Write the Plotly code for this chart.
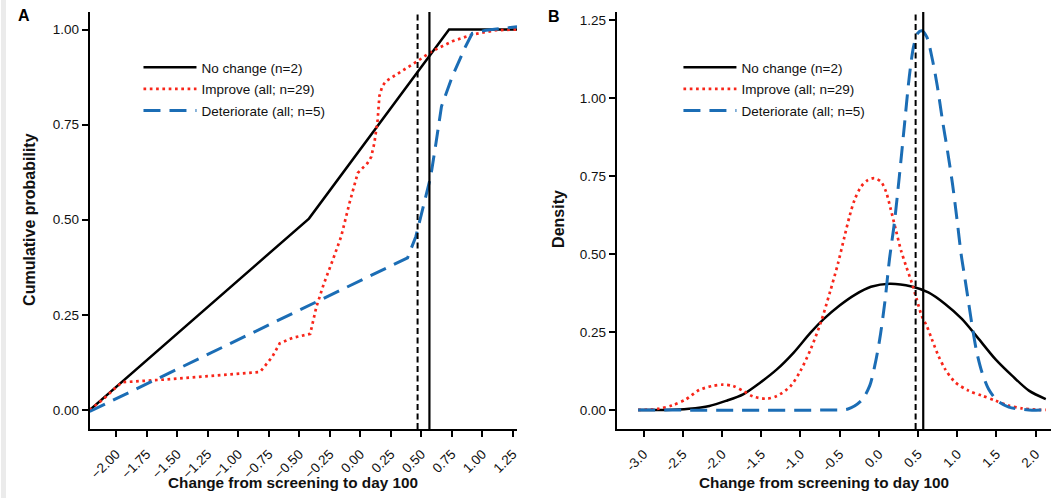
import plotly.graph_objects as go

# ---------------- Data ----------------
series_names = ["No change (n=2)", "Improve (all; n=29)", "Deteriorate (all; n=5)"]

# Panel A: cumulative probability
a_nochange_x = [-2.217, -0.42, 0.728, 1.285]
a_nochange_y = [0.0, 0.503, 1.0, 1.0]

a_improve_x = [-2.217, -2.1, -2.0, -1.95, -1.6, -1.2, -0.82, -0.72, -0.66, -0.55, -0.41,
               -0.36, -0.30, -0.224, -0.156, -0.088, -0.02, 0.06, 0.09, 0.116, 0.143,
               0.157, 0.18, 0.21, 0.32, 0.47, 0.59, 0.755, 0.92, 1.11, 1.285]
a_improve_y = [0.0, 0.03, 0.06, 0.073, 0.08, 0.09, 0.10, 0.14, 0.175, 0.19, 0.20,
               0.27, 0.33, 0.395, 0.456, 0.544, 0.623, 0.649, 0.665, 0.702, 0.763,
               0.825, 0.85, 0.864, 0.886, 0.917, 0.943, 0.969, 0.987, 0.998, 1.0]

a_deter_x = [-2.217, 0.388, 0.456, 0.524, 0.578, 0.62, 0.666, 0.755, 0.864, 0.918, 1.03, 1.285]
a_deter_y = [-0.004, 0.40, 0.456, 0.544, 0.614, 0.70, 0.798, 0.877, 0.956, 0.99, 0.998, 1.007]

# Panel B: density
b_nochange_x = [-3.07, -2.72, -2.42, -2.16, -1.95, -1.73, -1.51, -1.30, -1.085, -0.87, -0.70,
                -0.50, -0.30, -0.10, 0.14, 0.419, 0.632, 0.846, 1.06, 1.274, 1.487, 1.70,
                1.915, 2.13]
b_nochange_y = [0.0, 0.0, 0.004, 0.013, 0.029, 0.05, 0.088, 0.13, 0.184, 0.248, 0.292,
                0.335, 0.370, 0.395, 0.405, 0.396, 0.377, 0.34, 0.292, 0.228, 0.163, 0.11,
                0.062, 0.035]

b_improve_x = [-3.07, -2.81, -2.63, -2.46, -2.29, -2.12, -1.99, -1.86, -1.73, -1.60, -1.43,
               -1.30, -1.13, -1.0, -0.87, -0.74, -0.62, -0.52, -0.437, -0.374, -0.31, -0.226,
               -0.14, -0.056, 0.028, 0.092, 0.155, 0.218, 0.282, 0.35, 0.419, 0.483, 0.547,
               0.611, 0.675, 0.76, 0.846, 0.974, 1.145, 1.316, 1.487, 1.658, 1.83, 2.0, 2.13]
b_improve_y = [0.0, 0.004, 0.015, 0.034, 0.064, 0.077, 0.081, 0.077, 0.061, 0.043, 0.036,
               0.045, 0.075, 0.125, 0.194, 0.28, 0.38, 0.47, 0.556, 0.62, 0.673, 0.716,
               0.737, 0.743, 0.732, 0.70, 0.641, 0.577, 0.513, 0.46, 0.409, 0.356, 0.302,
               0.27, 0.228, 0.174, 0.131, 0.089, 0.062, 0.046, 0.030, 0.014, 0.005, 0.001, 0.0]

b_deter_x = [-3.07, -0.65, -0.393, -0.222, -0.115, -0.051, 0.013, 0.077, 0.137, 0.198, 0.262,
             0.325, 0.389, 0.443, 0.494, 0.549, 0.612, 0.685, 0.748, 0.812, 0.875, 0.939,
             1.003, 1.05, 1.10, 1.145, 1.197, 1.25, 1.316, 1.40, 1.51, 1.658, 1.915, 2.15]
b_deter_y = [0.0, 0.0, 0.003, 0.03, 0.078, 0.142, 0.228, 0.345, 0.485, 0.598, 0.748,
             0.908, 1.068, 1.164, 1.207, 1.216, 1.196, 1.122, 1.036, 0.929, 0.833, 0.727,
             0.60, 0.50, 0.42, 0.345, 0.26, 0.185, 0.121, 0.067, 0.03, 0.009, 0.0, 0.0]

# Reference vertical lines (same in both panels)
vline_dashed = 0.47
vline_solid = 0.567

# Tick values
a_xticks = [-2.0, -1.75, -1.5, -1.25, -1.0, -0.75, -0.5, -0.25, 0.0, 0.25, 0.5, 0.75, 1.0, 1.25]
a_yticks = [0.0, 0.25, 0.5, 0.75, 1.0]
b_xticks = [-3.0, -2.5, -2.0, -1.5, -1.0, -0.5, 0.0, 0.5, 1.0, 1.5, 2.0]
b_yticks = [0.0, 0.25, 0.5, 0.75, 1.0, 1.25]

x_title = "Change from screening to day 100"

# ---------------- Styles ----------------
BLACK = "#000000"
RED = "#f8261a"
BLUE = "#1b6db5"
FONT = "Liberation Sans, Arial, Helvetica, sans-serif"

styles = [
    dict(color=BLACK, width=2.5, dash="solid"),
    dict(color=RED, width=2.7, dash="2.7px,3.6px"),
    dict(color=BLUE, width=3, dash="17px,9px"),
]

fig = go.Figure()

panel_a = [(a_nochange_x, a_nochange_y), (a_improve_x, a_improve_y), (a_deter_x, a_deter_y)]
panel_b = [(b_nochange_x, b_nochange_y), (b_improve_x, b_improve_y), (b_deter_x, b_deter_y)]

for i, (xs, ys) in enumerate(panel_a):
    fig.add_trace(go.Scatter(x=xs, y=ys, mode="lines", name=series_names[i],
                             line=styles[i], xaxis="x", yaxis="y", legend="legend",
                             legendgroup="a%d" % i, hoverinfo="skip"))
for i, (xs, ys) in enumerate(panel_b):
    fig.add_trace(go.Scatter(x=xs, y=ys, mode="lines", name=series_names[i],
                             line=dict(styles[i], shape="spline", smoothing=0.8),
                             xaxis="x2", yaxis="y2", legend="legend2",
                             legendgroup="b%d" % i, hoverinfo="skip"))

# vertical reference lines
for xr, yr in (("x", "y"), ("x2", "y2")):
    fig.add_shape(type="line", xref=xr, yref=yr + " domain", x0=vline_dashed, x1=vline_dashed,
                  y0=0, y1=1, line=dict(color=BLACK, width=2, dash="6px,3.5px"))
    fig.add_shape(type="line", xref=xr, yref=yr + " domain", x0=vline_solid, x1=vline_solid,
                  y0=0, y1=1, line=dict(color=BLACK, width=2.2))

W, H = 1062, 498
def px_x(p):
    return p / W
def px_y(p):
    return 1 - p / H

axis_common = dict(showgrid=False, zeroline=False, showline=True, linecolor=BLACK, linewidth=2,
                   ticks="outside", ticklen=6, tickwidth=2, tickcolor=BLACK,
                   tickfont=dict(family=FONT, size=13.5, color="#111111"))

def fmt_minus(v, nd, minus):
    s = ("%." + str(nd) + "f") % abs(v)
    return (minus + s) if v < 0 else s

legend_common = dict(xanchor="left", yanchor="top", bgcolor="rgba(0,0,0,0)",
                     font=dict(family=FONT, size=13.5, color="#111111"),
                     itemwidth=53, tracegroupgap=1, traceorder="grouped")

fig.update_layout(
    width=W, height=H, margin=dict(l=0, r=0, t=0, b=0),
    paper_bgcolor="white", plot_bgcolor="white",
    font=dict(family=FONT, color=BLACK),
    xaxis=dict(axis_common, domain=[px_x(89), px_x(518)], range=[-2.217, 1.285],
               tickmode="array", tickvals=a_xticks,
               ticktext=[fmt_minus(v, 2, "\u2212") for v in a_xticks], tickangle=-45,
               ticklabelstandoff=4, anchor="y"),
    yaxis=dict(axis_common, domain=[px_y(429), px_y(12)], range=[-0.05, 1.046],
               tickmode="array", tickvals=a_yticks,
               ticktext=["%.2f" % v for v in a_yticks], anchor="x"),
    xaxis2=dict(axis_common, domain=[px_x(618), px_x(1054)], range=[-3.343, 2.197],
                tickmode="array", tickvals=b_xticks,
                ticktext=[fmt_minus(v, 1, "-") for v in b_xticks], tickangle=-45,
                ticklabelstandoff=4, anchor="y2"),
    yaxis2=dict(axis_common, domain=[px_y(429), px_y(12)], range=[-0.061, 1.276],
                tickmode="array", tickvals=b_yticks,
                ticktext=["%.2f" % v for v in b_yticks], anchor="x2"),
    legend=dict(legend_common, x=px_x(138), y=px_y(52)),
    legend2=dict(legend_common, x=px_x(680), y=px_y(52)),
    showlegend=True,
)

# grey strip on the left edge of the page
fig.add_shape(type="rect", xref="paper", yref="paper", x0=0, x1=px_x(5), y0=0, y1=1,
              fillcolor="#ebebeb", line=dict(width=0), layer="above")

annos = [
    dict(text="<b>A</b>", x=px_x(23), y=px_y(15)),
    dict(text="<b>B</b>", x=px_x(555), y=px_y(17)),
]
for a in annos:
    fig.add_annotation(xref="paper", yref="paper", showarrow=False, xanchor="center",
                       yanchor="middle", font=dict(family=FONT, size=16, color=BLACK), **a)

for cx in (293, 826):
    fig.add_annotation(text="<b>" + x_title + "</b>", xref="paper", yref="paper",
                       x=px_x(cx), y=px_y(482), showarrow=False, xanchor="center",
                       yanchor="middle", font=dict(family=FONT, size=15.3, color="#111111"))
fig.add_annotation(text="<b>Cumulative probability</b>", xref="paper", yref="paper",
                   x=px_x(29), y=px_y(219), showarrow=False, textangle=-90,
                   xanchor="center", yanchor="middle",
                   font=dict(family=FONT, size=16, color="#111111"))
fig.add_annotation(text="<b>Density</b>", xref="paper", yref="paper",
                   x=px_x(560), y=px_y(219), showarrow=False, textangle=-90,
                   xanchor="center", yanchor="middle",
                   font=dict(family=FONT, size=16, color="#111111"))

fig.write_html("out.html", config={"displayModeBar": False},
               post_script="document.body.style.margin='0px';")
